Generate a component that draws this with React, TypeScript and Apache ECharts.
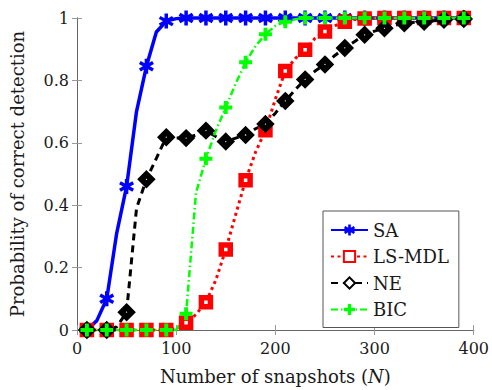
import React, { useEffect, useRef } from "react";
import * as echarts from "echarts";

const snapshots = [10, 20, 30, 40, 50, 60, 70, 80, 90, 100, 110, 120, 130, 140, 150, 160, 170, 180, 190, 200, 210, 220, 230, 240, 250, 260, 270, 280, 290, 300, 310, 320, 330, 340, 350, 360, 370, 380, 390];

const saValues = [0, 0.03, 0.1, 0.31, 0.46, 0.7, 0.845, 0.955, 0.99, 0.998, 1, 1, 1, 1, 1, 1, 1, 1, 1, 1, 1, 1, 1, 1, 1, 1, 1, 1, 1, 1, 1, 1, 1, 1, 1, 1, 1, 1, 1];

const lsMdlValues = [0, 0, 0, 0, 0, 0, 0, 0, 0, 0.005, 0.023, 0.05, 0.089, 0.16, 0.258, 0.37, 0.48, 0.57, 0.64, 0.74, 0.83, 0.87, 0.898, 0.935, 0.957, 0.975, 0.988, 0.995, 0.998, 1, 1, 1, 1, 1, 1, 1, 1, 1, 1];

const neValues = [0, 0, 0, 0.01, 0.057, 0.39, 0.483, 0.55, 0.618, 0.615, 0.615, 0.625, 0.639, 0.62, 0.604, 0.615, 0.625, 0.645, 0.66, 0.695, 0.734, 0.77, 0.803, 0.83, 0.851, 0.88, 0.904, 0.925, 0.946, 0.958, 0.967, 0.976, 0.983, 0.986, 0.988, 0.991, 0.994, 0.996, 0.997];

const bicValues = [0, 0, 0, 0, 0, 0, 0, 0, 0, 0, 0.052, 0.44, 0.549, 0.639, 0.713, 0.79, 0.858, 0.91, 0.948, 0.975, 0.988, 0.996, 1, 1, 1, 1, 1, 1, 1, 1, 1, 1, 1, 1, 1, 1, 1, 1, 1];

const seriesNames = ["SA", "LS-MDL", "NE", "BIC"];
const xTicks = [0, 100, 200, 300, 400];
const yTicks = [0, 0.2, 0.4, 0.6, 0.8, 1];

const FONT = "DejaVu Serif";
const TEXT = "#1a1a1a";

const asteriskPath =
  "path://M-2.3,-10L2.3,-10L2.3,10L-2.3,10Z" +
  "M-9.81,-3.01L-7.51,-6.99L9.81,3.01L7.51,6.99Z" +
  "M7.51,-6.99L9.81,-3.01L-7.51,6.99L-9.81,3.01Z";
const plusPath =
  "path://M-3,-10L3,-10L3,-3L10,-3L10,3L3,3L3,10L-3,10L-3,3L-10,3L-10,-3L-3,-3Z";

function buildData(values: number[]) {
  return snapshots.map((x, i) =>
    i % 2 === 0 ? { value: [x, values[i]] } : { value: [x, values[i]], symbol: "none" }
  );
}

export default function App() {
  const ref = useRef<HTMLDivElement>(null);
  useEffect(() => {
    if (!ref.current) return;
    const chart = echarts.init(ref.current, null, { renderer: "svg" });
    const frame = { show: true, lineStyle: { color: "#666", width: 1 } };
    const tick = { show: true, inside: true, length: 5, lineStyle: { color: "#999", width: 1 } };
    chart.setOption({
      animation: false,
      backgroundColor: "#fff",
      grid: { left: 77, right: 15, top: 18, bottom: 57 },
      xAxis: [
        {
          type: "value",
          min: xTicks[0],
          max: xTicks[xTicks.length - 1],
          interval: 100,
          position: "bottom",
          axisLine: frame,
          axisTick: tick,
          splitLine: { show: false },
          axisLabel: { fontFamily: FONT, fontSize: 16, color: TEXT, margin: 10 },
          name: "Number of snapshots ({i|N})",
          nameLocation: "middle",
          nameGap: 37,
          nameTextStyle: {
            fontFamily: FONT,
            fontSize: 18,
            color: TEXT,
            rich: { i: { fontFamily: FONT, fontSize: 18, fontStyle: "italic", color: TEXT } },
          },
        },
        {
          type: "value",
          min: xTicks[0],
          max: xTicks[xTicks.length - 1],
          interval: 100,
          position: "top",
          axisLine: frame,
          axisTick: tick,
          splitLine: { show: false },
          axisLabel: { show: false },
        },
      ],
      yAxis: [
        {
          type: "value",
          min: yTicks[0],
          max: yTicks[yTicks.length - 1],
          interval: 0.2,
          position: "left",
          axisLine: frame,
          axisTick: tick,
          splitLine: { show: false },
          axisLabel: { fontFamily: FONT, fontSize: 16, color: TEXT, margin: 8 },
          name: "Probability of correct detection",
          nameLocation: "middle",
          nameGap: 51,
          nameTextStyle: { fontFamily: FONT, fontSize: 18, color: TEXT },
        },
        {
          type: "value",
          min: yTicks[0],
          max: yTicks[yTicks.length - 1],
          interval: 0.2,
          position: "right",
          axisLine: frame,
          axisTick: tick,
          splitLine: { show: false },
          axisLabel: { show: false },
        },
      ],
      legend: {
        orient: "vertical",
        left: 323,
        top: 211,
        itemWidth: 37,
        itemHeight: 14,
        itemGap: 8.5,
        padding: [10, 10, 9, 7],
        borderColor: "#555",
        borderWidth: 1,
        backgroundColor: "#fff",
        textStyle: { fontFamily: FONT, fontSize: 18, color: TEXT },
        data: seriesNames,
      },
      series: [
        {
          name: seriesNames[0],
          type: "line",
          data: buildData(saValues),
          symbol: asteriskPath,
          symbolSize: 15,
          clip: false,
          lineStyle: { color: "#0000ff", width: 3.5 },
          itemStyle: { color: "#0000ff" },
        },
        {
          name: seriesNames[1],
          type: "line",
          data: buildData(lsMdlValues),
          symbol: "rect",
          symbolSize: 9,
          clip: false,
          lineStyle: { color: "#ff0000", width: 3, type: [3, 3.5] },
          itemStyle: { color: "#ffffff", borderColor: "#ff0000", borderWidth: 5.5 },
        },
        {
          name: seriesNames[2],
          type: "line",
          data: buildData(neValues),
          symbol: "diamond",
          symbolSize: 10,
          clip: false,
          lineStyle: { color: "#000000", width: 3, type: [7, 5] },
          itemStyle: { color: "#ffffff", borderColor: "#000000", borderWidth: 6 },
        },
        {
          name: seriesNames[3],
          type: "line",
          data: buildData(bicValues),
          symbol: plusPath,
          symbolSize: 13,
          clip: false,
          lineStyle: { color: "#00ff00", width: 2.5, type: [7, 3, 1.5, 3] },
          itemStyle: { color: "#00ff00" },
        },
      ],
    });
    return () => chart.dispose();
  }, []);
  return <div ref={ref} style={{ width: 492, height: 390, position: "absolute", left: 0, top: 0 }} />;
}
